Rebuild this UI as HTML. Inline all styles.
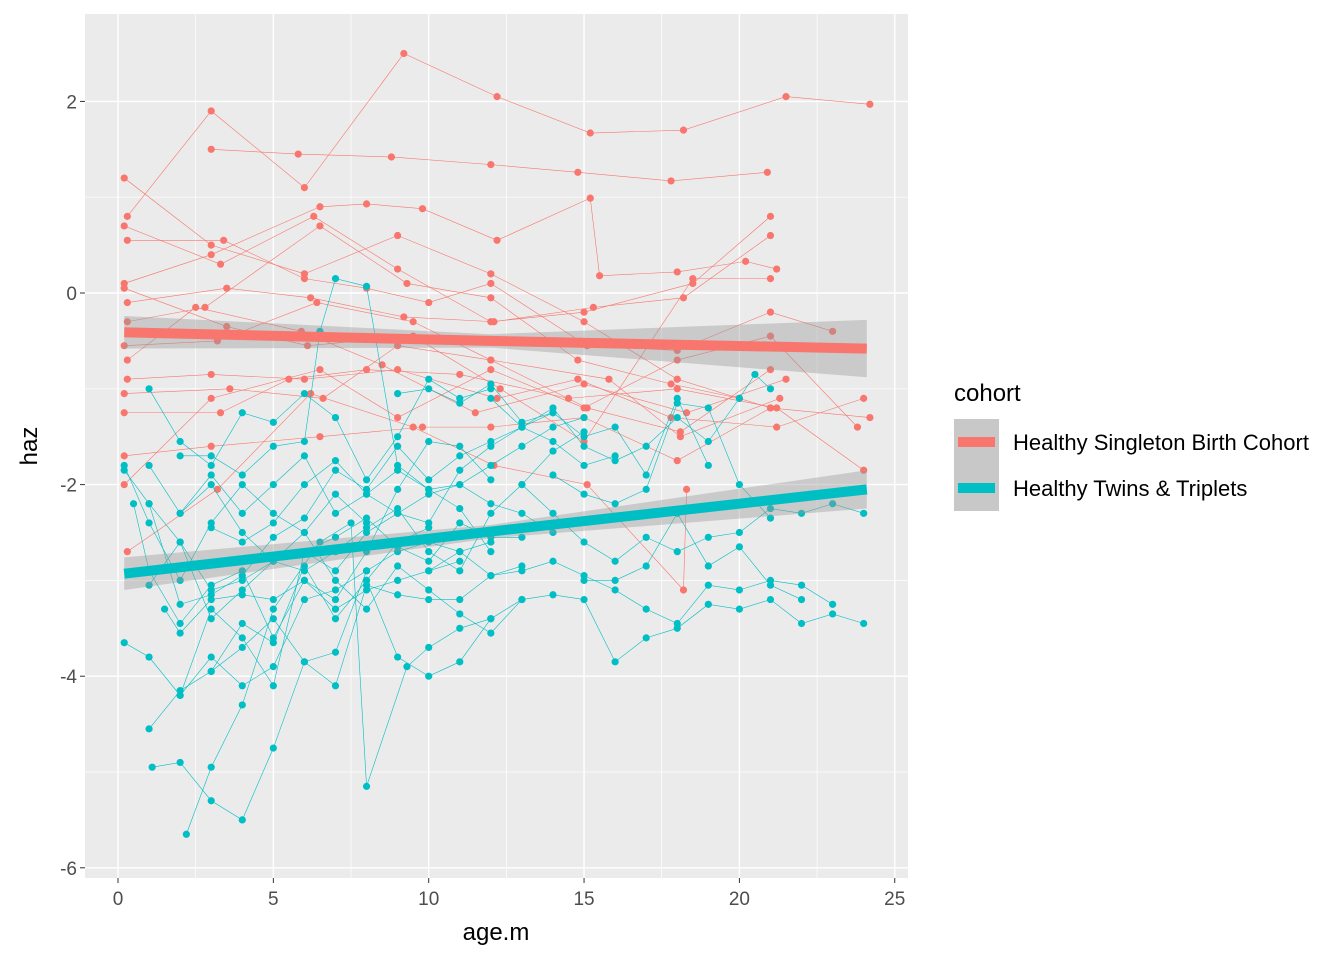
<!DOCTYPE html>
<html><head><meta charset="utf-8"><style>
body{margin:0;background:#fff;}
svg{display:block;font-family:"Liberation Sans",Arial,sans-serif;}
</style></head><body>
<svg id="chart" width="1344" height="960"></svg>
<script>
const xTicks=[0,5,10,15,20,25];
const yTicks=[2,0,-2,-4,-6];
const cohorts=["Healthy Singleton Birth Cohort","Healthy Twins & Triplets"];
const colors=["#F8766D","#00BFC4"];
const redSubjects=[
[[0.2,1.2],[3,0.5],[6,0.2],[9,0.6],[12,0.2],[15,-0.3],[18,-0.9],[21,-1.2]],
[[0.3,0.8],[3,1.9],[6,1.1],[9.2,2.5],[12.2,2.05],[15.2,1.67],[18.2,1.7],[21.5,2.05],[24.2,1.97]],
[[3,1.5],[5.8,1.45],[8.8,1.42],[12,1.34],[14.8,1.26],[17.8,1.17],[20.9,1.26]],
[[0.2,0.1],[3,0.4],[6.5,0.9],[8,0.93],[9.8,0.88],[12.2,0.55],[15.2,0.99],[15.5,0.18],[18,0.22],[20.2,0.33],[21.2,0.25]],
[[0.2,0.7],[3.3,0.3],[6.3,0.8],[9,0.25],[12,-0.3],[15,-0.2],[18.5,0.1],[21,0.8]],
[[0.3,-0.1],[3.5,0.05],[6.2,-0.05],[9.2,-0.25],[12.1,-0.3],[15.3,-0.15],[18.2,-0.05],[21,0.6]],
[[0.2,-0.55],[3.2,-0.5],[6.4,-0.1],[9.5,-0.3],[12,-0.7],[15.1,-1.2],[18.1,-1.45],[21,-0.8]],
[[0.3,-0.9],[3,-0.85],[6,-0.9],[9,-0.8],[12.2,-1.1],[14.8,-0.9],[17.8,-1.3],[21.2,-1.4],[24,-1.1]],
[[0.2,-1.7],[3,-1.6],[6.5,-1.5],[9.8,-1.4],[12,-1.4],[15,-1.3],[18,-1.75],[21,-1.2],[24.2,-1.3]],
[[0.3,-2.7],[3.2,-2.05],[6.2,-1.05],[9.5,-1.4],[12.1,-1.8],[15.1,-2.0],[18.2,-3.1],[18.3,-2.05]],
[[0.2,-1.25],[3.3,-1.25],[5.5,-0.9],[8,-0.8],[11,-0.85],[14.5,-1.1],[18,-1.0],[21.2,-1.2],[24,-1.85]],
[[0.2,-2.0],[3,-1.1],[6.5,-0.8],[9,-1.3],[12,-0.8],[15,-1.2],[18,-0.7],[21,-0.45],[23.8,-1.4]],
[[0.3,0.55],[3.4,0.55],[6,0.15],[8,0.05],[10,-0.1],[12,0.1],[15.1,-0.55],[18,-0.6],[21,-0.2],[23,-0.4]],
[[0.3,-0.3],[2.8,-0.15],[6.5,0.7],[9.3,0.1],[12,-0.05],[14.8,-0.7],[17.8,-0.95],[20,-1.1]],
[[0.2,0.05],[3.5,-0.35],[6.1,-0.55],[9.5,-0.45],[12.3,-1.0],[15,-1.55],[18.5,0.15],[21,0.15]],
[[0.2,-1.05],[3.6,-1.0],[6.6,-1.1],[9,-0.55],[12,-0.7],[15.8,-0.9],[18.1,-1.5],[21.3,-1.1]],
[[0.3,-0.7],[2.5,-0.15],[5.9,-0.4],[8.5,-0.75],[11.5,-1.25],[15,-0.95],[18.3,-1.25],[21.5,-0.9]]
];
const tealSubjects=[
[[0.2,-1.8],[1,-2.4],[2,-3.0],[3,-2.4],[4,-2.0],[5,-2.3],[6,-2.5],[7,-2.1],[8,-2.4]],
[[0.2,-3.65],[1,-3.8],[2,-4.2],[3,-3.8],[4,-4.1],[5,-3.9],[6,-3.2],[7,-3.1],[8,-2.9]],
[[1,-1.0],[2,-1.55],[3,-1.8],[4,-1.25],[5,-1.35],[6,-1.05],[7,-1.3],[8,-1.95],[9,-1.5],[10,-0.9],[11,-1.1],[12,-1.0]],
[[1.1,-4.95],[2,-4.9],[3,-5.3],[4,-5.5],[5,-4.75],[6,-3.85],[7,-3.75],[8,-2.9],[9,-2.7],[10,-2.6],[11,-2.7],[12,-2.6]],
[[1,-4.55],[2,-4.15],[3,-3.95],[4,-3.45],[5,-3.65],[6,-2.85],[7,-3.4],[8,-3.0],[9,-2.6],[10,-2.45]],
[[2.2,-5.65],[3,-4.95],[4,-4.3],[5,-3.3],[6.5,-2.6],[7.5,-2.4],[8,-5.15],[9.3,-3.9],[10,-3.7],[11,-3.5],[12,-3.4]],
[[1,-3.05],[2,-2.6],[3,-3.1],[4,-3.0],[5,-2.8],[6,-2.7],[7,-2.9],[8,-2.5],[9,-2.3],[10,-2.1],[11,-2.0],[12,-1.8],[13,-1.6],[14,-1.4],[15,-1.3]],
[[1.5,-3.3],[2,-3.55],[3,-3.2],[4,-3.15],[5,-3.2],[6,-3.0],[7,-3.3],[8,-3.1],[9,-3.0],[10,-2.9],[11,-2.8]],
[[2,-1.7],[3,-1.7],[4,-1.9],[5,-1.6],[6,-1.55],[6.5,-0.4],[7,0.15],[8,0.07],[9,-1.8],[10,-2.05],[11,-2.0],[12,-2.2],[13,-2.3],[14,-2.5]],
[[3,-2.45],[4,-2.6],[5,-2.4],[6,-2.0],[7,-1.75],[8,-2.1],[9,-2.3],[10,-2.4],[11,-1.85],[12,-1.6],[13,-1.4],[14,-1.55],[15,-1.8],[16,-1.7]],
[[8,-3.0],[9,-3.8],[10,-4.0],[11,-3.85],[12,-3.4],[13,-3.2],[14,-3.15],[15,-3.2],[16,-3.85],[17,-3.6],[18,-3.5],[19,-3.25],[20,-3.3],[21,-3.2],[22,-3.45],[23,-3.35],[24,-3.45]],
[[10,-2.9],[11,-2.7],[12,-2.95],[13,-2.9],[14,-2.8],[15,-2.95],[16,-3.1],[17,-3.3],[18,-3.45],[19,-3.05],[20,-3.1],[21,-3.0],[22,-3.05],[23,-3.25]],
[[12,-1.1],[13,-1.4],[14,-1.2],[15,-1.6],[16,-1.75],[17,-1.6],[18,-1.3],[19,-1.55],[20,-1.1],[20.5,-0.85],[21,-1.0]],
[[13,-2.0],[14,-2.3],[15,-2.6],[16,-2.8],[17,-2.55],[18,-2.7],[19,-2.55],[20,-2.5],[21,-2.25],[22,-2.3],[23,-2.2],[24,-2.3]],
[[14,-1.9],[15,-2.1],[16,-2.2],[17,-2.05],[18,-1.15],[19,-1.2],[20,-2.0],[21,-2.35]],
[[15,-3.0],[16,-3.0],[17,-2.85],[18,-2.3],[19,-2.85],[20,-2.65],[21,-3.05],[22,-3.2]],
[[0.5,-2.2],[1,-2.9],[2,-3.45],[3,-3.05],[4,-2.9],[5,-3.6],[6,-3.0],[7,-3.2],[8,-2.7],[9,-2.05],[10,-1.55],[11,-1.6],[12,-1.95]],
[[1,-1.8],[2,-2.3],[3,-1.9],[4,-2.3],[5,-2.0],[6,-1.7],[7,-2.3],[8,-2.1],[9,-1.85],[10,-2.05],[11,-2.25],[12,-2.7]],
[[2,-4.2],[3,-3.3],[4,-3.6],[5,-4.1],[6,-2.7],[7,-2.55],[8,-2.35],[9,-2.65],[10,-2.8],[11,-2.4],[12,-2.55],[13,-2.55]],
[[3,-3.95],[4,-3.7],[5,-3.4],[6,-3.85],[7,-4.1],[8,-3.05],[9,-3.15],[10,-3.2],[11,-3.2],[12,-2.95],[13,-2.85]],
[[2,-2.3],[3,-2.0],[4,-2.5],[5,-2.8],[6,-2.9],[7,-2.7],[8,-2.45],[9,-2.25],[10,-2.7],[11,-2.9],[12,-2.3],[13,-2.0],[14,-1.65],[15,-1.45]],
[[9,-1.05],[10,-1.0],[11,-1.15],[12,-0.95],[13,-1.35],[14,-1.25],[15,-1.5],[16,-1.4],[17,-1.9],[18,-1.1],[19,-1.8]],
[[1,-2.2],[2,-2.6],[3,-3.4],[4,-3.1],[5,-2.8],[6,-2.5],[7,-3.0],[8,-3.3],[9,-2.85],[10,-3.1],[11,-3.35],[12,-3.55],[13,-3.2]],
[[0.2,-1.85],[1,-2.2],[2,-3.25],[3,-3.15],[4,-2.95],[5,-2.55],[6,-2.35],[7,-1.85],[8,-2.05],[9,-1.6],[10,-1.95],[11,-1.7],[12,-1.55],[13,-1.4],[14,-1.25]]
];
const smoothX=[0.2,12,24.1];
const redFit=[-0.41,-0.5,-0.58];
const redSE=[0.17,0.07,0.3];
const tealFit=[-2.93,-2.49,-2.05];
const tealSE=[0.17,0.07,0.2];

const NS="http://www.w3.org/2000/svg";
const svg=document.getElementById('chart');
const P={l:85,r:908,t:14,b:878};
const sx=v=>118+v*31.07;
const sy=v=>293-v*95.8;
function mk(tag,attrs,parent){const e=document.createElementNS(NS,tag);for(const k in attrs)e.setAttribute(k,attrs[k]);(parent||svg).appendChild(e);return e;}

const bg=mk('rect',{x:P.l,y:P.t,width:P.r-P.l,height:P.b-P.t,fill:'#EBEBEB'});


for(let i=0;i<xTicks.length-1;i++){const v=(xTicks[i]+xTicks[i+1])/2;const g=mk('line',{x1:sx(v),x2:sx(v),y1:P.t,y2:P.b,stroke:'#fff','stroke-width':0.7});

}
for(let i=0;i<yTicks.length-1;i++){const v=(yTicks[i]+yTicks[i+1])/2;const g=mk('line',{x1:P.l,x2:P.r,y1:sy(v),y2:sy(v),stroke:'#fff','stroke-width':0.7});

}
xTicks.forEach(v=>{const g=mk('line',{x1:sx(v),x2:sx(v),y1:P.t,y2:P.b,stroke:'#fff','stroke-width':1.4});


const t=mk('line',{x1:sx(v),x2:sx(v),y1:P.b,y2:P.b+5,stroke:'#333','stroke-width':1});


const l=mk('text',{x:sx(v),y:905,'text-anchor':'middle','font-size':19,fill:'#4D4D4D'});l.textContent=v;

});
yTicks.forEach(v=>{const g=mk('line',{x1:P.l,x2:P.r,y1:sy(v),y2:sy(v),stroke:'#fff','stroke-width':1.4});


const t=mk('line',{x1:P.l-5,x2:P.l,y1:sy(v),y2:sy(v),stroke:'#333','stroke-width':1});


const l=mk('text',{x:P.l-8,y:sy(v)+7,'text-anchor':'end','font-size':19,fill:'#4D4D4D'});l.textContent=v;

});

function drawSubjects(list,color,name){
  list.forEach(s=>{
    const pl=mk('polyline',{points:s.map(p=>sx(p[0])+','+sy(p[1])).join(' '),fill:'none',stroke:color,'stroke-width':0.6});
    
    
    s.forEach(p=>{const c=mk('circle',{cx:sx(p[0]),cy:sy(p[1]),r:3.6,fill:color});
      
      });
  });
}
drawSubjects(redSubjects,colors[0],'singleton');
drawSubjects(tealSubjects,colors[1],'twins');

function drawSmooth(fit,se,color,name){
  const up=smoothX.map((x,i)=>sx(x)+','+sy(fit[i]+se[i]));
  const lo=smoothX.map((x,i)=>sx(x)+','+sy(fit[i]-se[i])).reverse();
  const rb=mk('polygon',{points:up.concat(lo).join(' '),fill:'#999','fill-opacity':0.4});
  
  
  const ln=mk('polyline',{points:smoothX.map((x,i)=>sx(x)+','+sy(fit[i])).join(' '),fill:'none',stroke:color,'stroke-width':10});
  
  
}
drawSmooth(redFit,redSE,colors[0],'singleton');
drawSmooth(tealFit,tealSE,colors[1],'twins');

const xt=mk('text',{x:496,y:940,'text-anchor':'middle','font-size':24,fill:'#000'});xt.textContent='age.m';


const yt=mk('text',{x:37,y:446,'text-anchor':'middle','font-size':24,fill:'#000',transform:'rotate(-90 37 446)'});yt.textContent='haz';



const lt=mk('text',{x:954,y:401,'font-size':24,fill:'#000'});lt.textContent='cohort';


cohorts.forEach((c,i)=>{
  const y0=419+i*46;
  const k=mk('rect',{x:954,y:y0,width:45,height:46,fill:'#C8C8C8'});
  
  
  const b=mk('rect',{x:958,y:y0+18,width:37,height:10,fill:colors[i]});
  
  
  const t=mk('text',{x:1013,y:y0+31,'font-size':22,fill:'#000'});t.textContent=c;
  
  
});
</script>
</body></html>
